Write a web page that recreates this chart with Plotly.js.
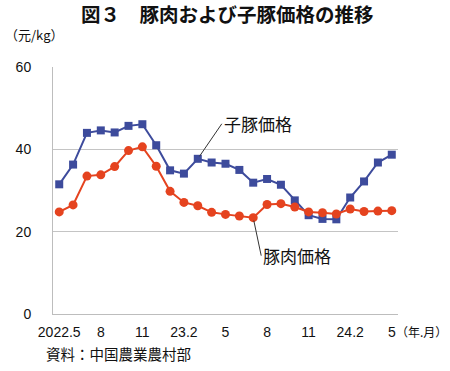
<!DOCTYPE html>
<html>
<head>
<meta charset="utf-8">
<script src="https://cdn.plot.ly/plotly-3.0.1.min.js"></script>
<style>html,body{margin:0;padding:0;background:#fff;}#chart{width:450px;height:371px;}</style>
</head>
<body>
<div id="chart"></div>
<script>
// months 2022.5 ... 2024.5
var months = ['2022.5','2022.6','2022.7','2022.8','2022.9','2022.10','2022.11','2022.12',
  '2023.1','2023.2','2023.3','2023.4','2023.5','2023.6','2023.7','2023.8','2023.9','2023.10',
  '2023.11','2023.12','2024.1','2024.2','2024.3','2024.4','2024.5'];
var pigletPrice = [31.5,36.3,44.0,44.6,44.1,45.7,46.1,41.0,34.9,34.1,37.7,36.8,36.5,35.0,
  31.9,32.8,31.4,27.6,24.0,23.1,23.0,28.3,32.2,36.8,38.7];
var porkPrice = [24.8,26.5,33.5,33.8,35.8,39.7,40.6,35.9,29.8,27.1,26.3,24.7,24.2,23.8,
  23.4,26.6,26.8,26.0,24.8,24.6,24.3,25.5,24.9,25.0,25.1];
var tickIdx = [0,3,6,9,12,15,18,21,24];
var tickLabels = ['2022.5','8','11','23.2','5','8','11','24.2','5'];
var yTicks = [0,20,40,60];

var xs = months.map(function(m,i){return i;});
var FONT = 'Liberation Sans, Arial, "Noto Sans CJK JP", sans-serif';
var JP = '"Noto Sans CJK JP", sans-serif';

var traces = [
  {x: xs, y: pigletPrice, name: '子豚価格', type: 'scatter', mode: 'lines+markers',
   line: {color: '#3d4b9c', width: 2}, marker: {symbol: 'square', size: 8, color: '#3d4b9c'}},
  {x: xs, y: porkPrice, name: '豚肉価格', type: 'scatter', mode: 'lines+markers',
   line: {color: '#e5431f', width: 2}, marker: {symbol: 'circle', size: 9, color: '#e5431f'}}
];

var layout = {
  width: 450, height: 371,
  margin: {l: 53, r: 52, t: 67, b: 57},
  paper_bgcolor: '#fff', plot_bgcolor: '#fff',
  showlegend: false,
  font: {family: FONT, size: 14, color: '#111'},
  title: {text: '図３　豚肉および子豚価格の推移', font: {family: JP, size: 19.5, color: '#111', weight: 'bold'},
          x: 0.505, xanchor: 'center', y: 0.958, yanchor: 'middle'},
  xaxis: {range: [-0.45, 24.45], tickmode: 'array', tickvals: tickIdx, ticktext: tickLabels,
          showgrid: false, zeroline: false, showline: true, linecolor: '#bdbdbd', linewidth: 1,
          ticks: '', tickfont: {family: FONT, size: 14, color: '#111'}, ticklabelstandoff: 5, fixedrange: true},
  yaxis: {range: [0, 60], tickmode: 'array', tickvals: yTicks, showgrid: true, gridcolor: '#c4c4c4', gridwidth: 1,
          zeroline: false, showline: true, linecolor: '#bdbdbd', linewidth: 1, ticks: '',
          tickfont: {family: FONT, size: 14, color: '#111'}, ticklabelstandoff: 18, fixedrange: true},
  annotations: [
    {xref: 'paper', yref: 'paper', x: -0.145, y: 1.13, xanchor: 'left', yanchor: 'middle', showarrow: false,
     text: '（元/kg）', font: {family: JP, size: 13, color: '#111'}},
    {xref: 'paper', yref: 'paper', x: 1.148, y: -0.07, xanchor: 'right', yanchor: 'middle', showarrow: false,
     text: '（年.月）', font: {family: JP, size: 12, color: '#111'}},
    {xref: 'paper', yref: 'paper', x: -0.025, y: -0.16, xanchor: 'left', yanchor: 'middle', showarrow: false,
     text: '資料：中国農業農村部', font: {family: JP, size: 14.5, color: '#111'}},
    {x: 10, y: pigletPrice[10], xref: 'x', yref: 'y', showarrow: true, arrowhead: 0, arrowwidth: 1,
     arrowcolor: '#333', ax: 24, ay: -35, xanchor: 'left', yanchor: 'middle', standoff: 3,
     text: '子豚価格', font: {family: JP, size: 17, color: '#111'}},
    {x: 14, y: porkPrice[14], xref: 'x', yref: 'y', showarrow: true, arrowhead: 0, arrowwidth: 1,
     arrowcolor: '#333', ax: 8, ay: 38, xanchor: 'left', yanchor: 'middle', standoff: 3,
     text: '豚肉価格', font: {family: JP, size: 17, color: '#111'}}
  ]
};

Plotly.newPlot('chart', traces, layout, {staticPlot: true, displayModeBar: false});
</script>
</body>
</html>
